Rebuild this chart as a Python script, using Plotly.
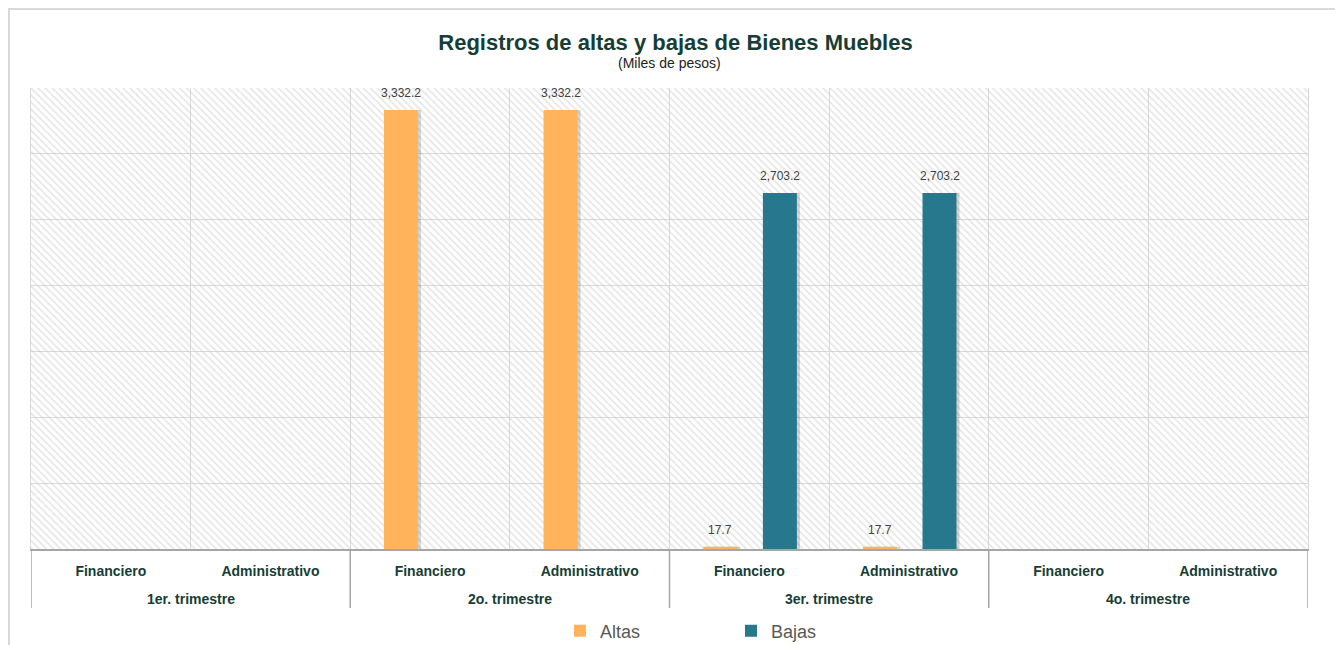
import plotly.graph_objects as go

# ---- data ----
quarter_names = ["1er. trimestre", "2o. trimestre", "3er. trimestre", "4o. trimestre"]
area_names = ["Financiero", "Administrativo"]
altas = [None, None, 3332.2, 3332.2, 17.7, 17.7, None, None]
bajas = [None, None, None, None, 2703.2, 2703.2, None, None]
series_names = ["Altas", "Bajas"]
y_max = 3500
y_step = 500

# derived category keys (unique) and their tick labels
categories = [f"{q} | {a}" for q in quarter_names for a in area_names]
tick_text = [a for q in quarter_names for a in area_names]

# ---- style ----
FONT = "Liberation Sans, Arial, sans-serif"
DARK = "#163d36"
C_ALTAS = "#FFB45C"
C_BAJAS = "#27788D"
GRID = "#d9d9d9"
AXIS = "#a6a6a6"
OFF = 8                      # page body margin
W, H = 1343 - OFF, 645 - OFF
# plot area in page pixels: x 31..1308, y 88..549
ML, MT = 31 - OFF, 88 - OFF
MR = W - (1308 - OFF)
MB = H - (549 - OFF)
PW = W - ML - MR
PH = H - MT - MB


def py(page_y):
    """page pixel y -> paper y"""
    return ((MT + PH) - (page_y - OFF)) / PH


def px(page_x):
    """page pixel x -> paper x"""
    return ((page_x - OFF) - ML) / PW


CAT_PX = PW / len(categories)
BAR_W = 0.213
OFFS = [-0.289, 0.085]

fig = go.Figure()

# hatched plot background
fig.add_trace(go.Bar(
    x=categories, y=[y_max] * len(categories), width=1.0, offset=-0.5,
    marker=dict(color="rgba(0,0,0,0)", line=dict(width=0),
                pattern=dict(shape="\\", fgcolor="#c9c9c9", bgcolor="rgba(0,0,0,0)",
                             size=5, solidity=0.3)),
    hoverinfo="skip", showlegend=False,
))

series = [(series_names[0], altas, C_ALTAS, OFFS[0]),
          (series_names[1], bajas, C_BAJAS, OFFS[1])]

# soft shadows
for name, vals, col, off in series:
    fig.add_trace(go.Bar(
        x=categories, y=vals, width=BAR_W, offset=off + 3 / CAT_PX,
        marker=dict(color="rgba(0,0,0,0.16)", line=dict(width=0)),
        hoverinfo="skip", showlegend=False,
    ))

annotations = []
for name, vals, col, off in series:
    fig.add_trace(go.Bar(
        x=categories, y=vals, name=name, width=BAR_W, offset=off,
        marker=dict(color=col, line=dict(width=0)),
    ))
    for c, v in zip(categories, vals):
        if v is not None:
            annotations.append(dict(
                x=c, y=v, xref="x", yref="y", text=f"{v:,.1f}", showarrow=False,
                xshift=(off + BAR_W / 2) * CAT_PX, yshift=17, yanchor="middle",
                font=dict(family=FONT, size=12, color="#404040")))

# quarter (group) labels
for i, q in enumerate(quarter_names):
    n = len(area_names)
    annotations.append(dict(
        x=i * n + (n - 1) / 2, y=py(599), xref="x", yref="paper",
        text=q, showarrow=False, yanchor="middle",
        font=dict(family=FONT, size=14, color=DARK, weight="bold")))

annotations.append(dict(text="(Miles de pesos)", xref="paper", yref="paper",
                        x=0.5, y=py(63), xanchor="center", yanchor="middle",
                        showarrow=False, font=dict(family=FONT, size=14, color="#222222")))

# group dividers below the axis
shapes = []
for i in range(len(quarter_names) + 1):
    xb = i * len(area_names) - 0.5
    shapes.append(dict(type="line", xref="x", yref="paper", x0=xb, x1=xb,
                       y0=0, y1=py(608), line=dict(color=AXIS, width=1.5)))
# outer chart frame (as close to the page edge as the figure allows)
shapes.append(dict(type="rect", xref="paper", yref="paper",
                   x0=px(OFF + 1), x1=px(1340), y0=py(660), y1=py(OFF + 1),
                   line=dict(color="#d9d9d9", width=2), fillcolor="rgba(0,0,0,0)",
                   layer="below"))

fig.update_layout(
    width=W, height=H,
    margin=dict(l=ML, r=MR, t=MT, b=MB, autoexpand=False),
    paper_bgcolor="white", plot_bgcolor="white",
    barmode="overlay",
    font=dict(family=FONT, color=DARK),
    title=dict(text="Registros de altas y bajas de Bienes Muebles",
               font=dict(family=FONT, size=22, color=DARK, weight="bold"),
               x=0.5, xanchor="center", y=1 - (35 - OFF) / H, yanchor="top"),
    annotations=annotations,
    shapes=shapes,
    xaxis=dict(type="category", categoryorder="array", categoryarray=categories,
               tickmode="array", tickvals=categories, ticktext=tick_text,
               range=[-0.5, len(categories) - 0.5],
               showgrid=True, gridcolor=GRID, gridwidth=1,
               tickson="boundaries", ticks="", ticklabelstandoff=8,
               showline=True, linecolor=AXIS, linewidth=1.5, automargin=False,
               tickfont=dict(family=FONT, size=14, color=DARK, weight="bold")),
    yaxis=dict(range=[0, y_max], dtick=y_step, showticklabels=False, ticks="",
               showgrid=True, gridcolor=GRID, gridwidth=1, zeroline=False,
               showline=True, linecolor=GRID, linewidth=1, mirror=True,
               automargin=False),
    legend=dict(orientation="h", x=px(560), xanchor="left",
                y=py(631), yanchor="middle", entrywidth=126,
                font=dict(family=FONT, size=18, color="#595959")),
)

fig.write_html("out.html")
